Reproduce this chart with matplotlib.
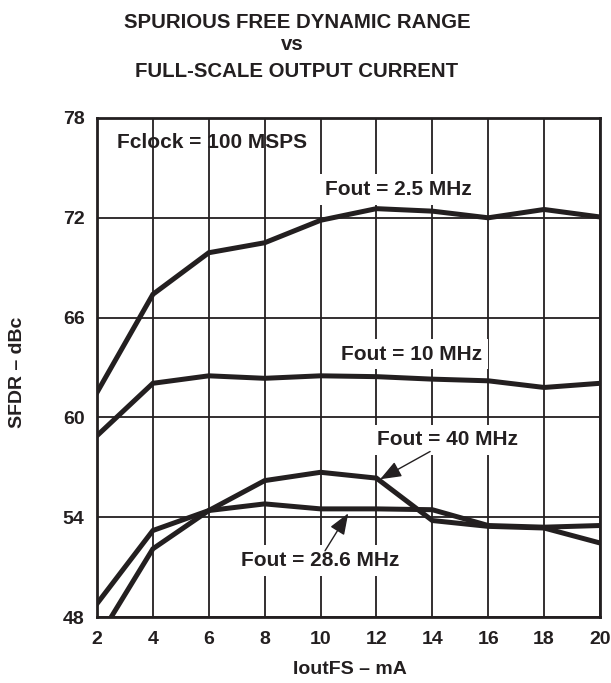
import matplotlib
matplotlib.use("Agg")
import matplotlib.pyplot as plt

# ---- data ----
iout_ma = [2, 4, 6, 8, 10, 12, 14, 16, 18, 20]
sfdr_2p5 = [61.5, 67.4, 69.9, 70.5, 71.85, 72.55, 72.4, 72.0, 72.5, 72.05]
sfdr_10 = [58.9, 62.05, 62.5, 62.35, 62.5, 62.45, 62.3, 62.2, 61.8, 62.05]
sfdr_40 = [46.6, 52.1, 54.4, 56.2, 56.7, 56.35, 53.8, 53.45, 53.35, 52.45]
sfdr_28p6 = [48.8, 53.2, 54.4, 54.8, 54.5, 54.5, 54.45, 53.5, 53.4, 53.5]

x_ticks = [2, 4, 6, 8, 10, 12, 14, 16, 18, 20]
y_ticks = [48, 54, 60, 66, 72, 78]

title_lines = ["SPURIOUS FREE DYNAMIC RANGE", "vs", "FULL-SCALE OUTPUT CURRENT"]
x_label = "IoutFS – mA"
y_label = "SFDR – dBc"

INK = "#231f20"
FONT = ["Liberation Sans", "DejaVu Sans"]
plt.rcParams["font.family"] = FONT
plt.rcParams["font.weight"] = "bold"

fig = plt.figure(figsize=(6.11, 6.83), dpi=100)
ax = fig.add_axes([97 / 611, 1 - 617 / 683, (600 - 97) / 611, (617 - 118) / 683])

ax.set_xlim(2, 20)
ax.set_ylim(48, 78)
ax.set_xticks(x_ticks)
ax.set_yticks(y_ticks)
ax.grid(True, color=INK, linewidth=1.3, zorder=1)
ax.set_axisbelow(True)
ax.tick_params(length=0, labelsize=14, colors=INK)
ax.tick_params(axis="x", pad=10)
ax.tick_params(axis="y", pad=9)
for lab in ax.get_xticklabels() + ax.get_yticklabels():
    lab.set_fontweight("bold")
for sp in ax.spines.values():
    sp.set_linewidth(2.0)
    sp.set_color(INK)
    sp.set_zorder(5)

lw = 3.6
for series in (sfdr_2p5, sfdr_10, sfdr_40, sfdr_28p6):
    ax.plot(iout_ma, series, color=INK, linewidth=lw, solid_joinstyle="miter", zorder=3)

tkw = dict(fontsize=15, fontweight="bold", color=INK, ha="center", va="center", zorder=4)
box = dict(facecolor="white", edgecolor="none", pad=4)

ax.text(6.1, 76.55, "Fclock = 100 MSPS", **tkw)
ax.text(12.8, 73.7, "Fout = 2.5 MHz", bbox=box, **tkw)
ax.text(13.27, 63.8, "Fout = 10 MHz", bbox=box, **tkw)
ax.text(14.56, 58.65, "Fout = 40 MHz", bbox=box, **tkw)
ax.text(10.0, 51.4, "Fout = 28.6 MHz", bbox=box, **tkw)

akw = dict(arrowstyle="-|>,head_length=1.3,head_width=0.5", color=INK, lw=1.0, shrinkA=0, shrinkB=0)
ax.annotate("", xy=(12.13, 56.28), xytext=(13.92, 57.95), arrowprops=akw, zorder=4)
ax.annotate("", xy=(10.99, 54.23), xytext=(10.16, 51.98), arrowprops=akw, zorder=4)

# titles
fig.text(297 / 611, 1 - 28 / 683, title_lines[0], fontsize=14.7, fontweight="bold",
         color=INK, ha="center", va="baseline")
fig.text(292 / 611, 1 - 50 / 683, title_lines[1], fontsize=14.7, fontweight="bold",
         color=INK, ha="center", va="baseline")
fig.text(297 / 611, 1 - 77 / 683, title_lines[2], fontsize=14.7, fontweight="bold",
         color=INK, ha="center", va="baseline")

fig.text(350 / 611, 1 - 670 / 683, x_label, fontsize=14, fontweight="bold",
         color=INK, ha="center", va="center")
fig.text(18 / 611, 1 - 372 / 683, y_label, fontsize=14, fontweight="bold",
         color=INK, ha="center", va="center", rotation=90)

fig.savefig("out.png", dpi=100, facecolor="white")
